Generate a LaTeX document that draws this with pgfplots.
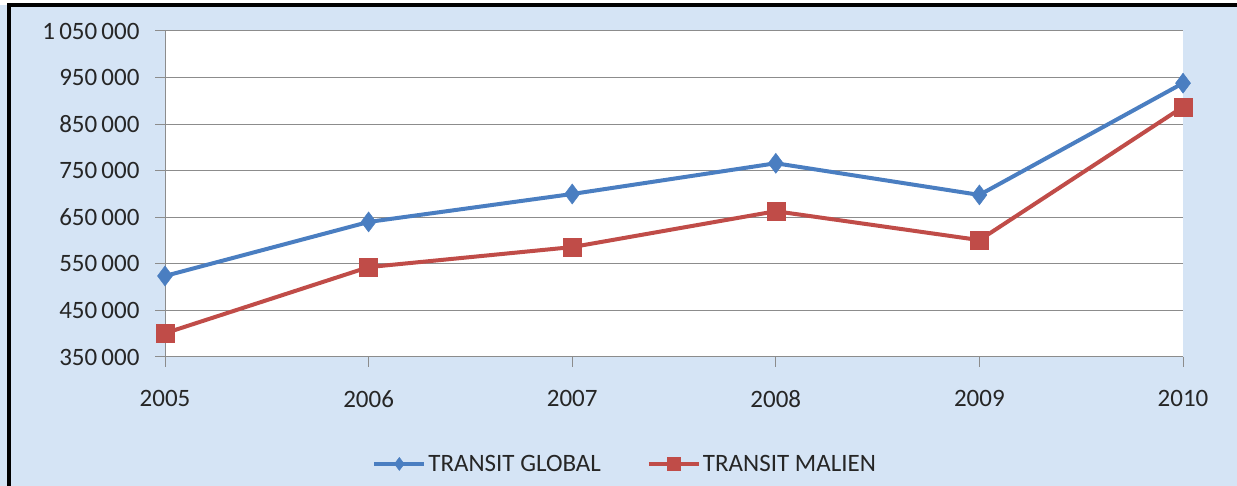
\documentclass[border=0pt]{standalone}
\usepackage{fontspec}
\setmainfont{Carlito}
\usepackage{pgfplots}
\pgfplotsset{compat=1.18}
\definecolor{bgblue}{RGB}{213,228,245}
\definecolor{xlblue}{RGB}{74,126,193}
\definecolor{xlred}{RGB}{192,76,72}
\definecolor{gridgray}{RGB}{140,140,140}
\begin{document}
\begin{tikzpicture}
\useasboundingbox (0pt,0pt) rectangle (1237pt,486pt);
\fill[bgblue] (0pt,0pt) rectangle (1237pt,486pt);
\fill[white] (0pt,481pt) rectangle (1237pt,486pt);
\draw[black,line width=3.5pt] (9pt,0pt) -- (9pt,481pt) -- (1237pt,481pt);
\begin{axis}[
  at={(165pt,129pt)}, anchor=south west,
  scale only axis, width=1018pt, height=326pt,
  xmin=2005, xmax=2010, ymin=350000, ymax=1050000,
  scaled y ticks=false,
  clip=false,
  axis background/.style={fill=white},
  axis x line*=bottom, axis y line*=left,
  axis line style={gridgray, line width=1pt},
  xtick={2005,2006,2007,2008,2009,2010},
  xticklabels={2005,2006,2007,2008,2009,2010},
  ytick={350000,450000,550000,650000,750000,850000,950000,1050000},
  yticklabels={350\,000,450\,000,550\,000,650\,000,750\,000,850\,000,950\,000,1\,050\,000},
  ymajorgrids,
  grid style={gridgray, line width=1pt},
  tick style={gridgray, line width=1pt},
  tick align=outside, major tick length=10pt,
  ticklabel style={font=\fontsize{25}{29}\selectfont, text=black!85},
  yticklabel style={xshift=-12pt},
  xticklabel style={yshift=-20pt},
  legend style={draw=none, fill=none, at={(0.452,-0.328)}, anchor=center,
    legend columns=2, font=\fontsize{25}{29}\selectfont, text=black!85,
    /tikz/every even column/.append style={column sep=44pt}},
  legend image code/.code={\draw[mark repeat=2,mark phase=2,mark size=6.5pt] plot coordinates {(0pt,0pt) (25pt,0pt) (50pt,0pt)};},
]
\addplot[xlblue, line width=4pt, mark=diamond*, mark size=10pt, mark options={solid, line width=0.5pt}]
  coordinates {(2005,524000) (2006,640000) (2007,700000) (2008,766000) (2009,698000) (2010,938000)};
\addlegendentry{TRANSIT GLOBAL}
\addplot[xlred, line width=4pt, mark=square*, mark size=9pt, mark options={solid, line width=0.5pt}]
  coordinates {(2005,401000) (2006,543000) (2007,586000) (2008,663000) (2009,601000) (2010,887000)};
\addlegendentry{TRANSIT MALIEN}
\end{axis}
\end{tikzpicture}
\end{document}
